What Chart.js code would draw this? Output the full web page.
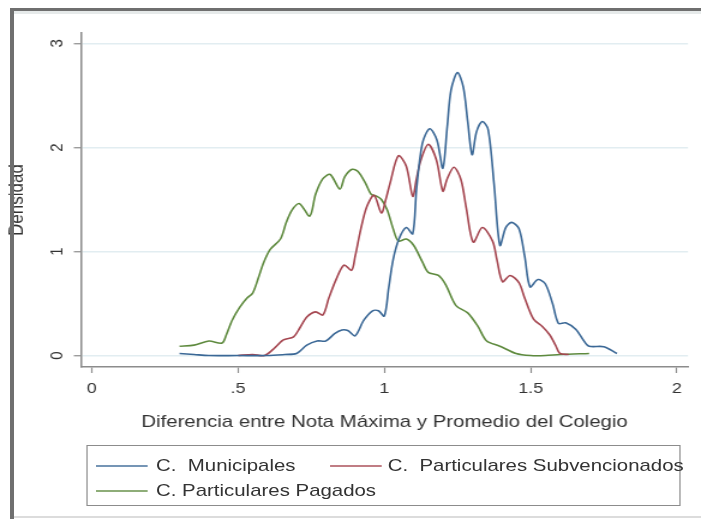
<!DOCTYPE html>
<html>
<head>
<meta charset="utf-8">
<script src="https://cdn.jsdelivr.net/npm/chart.js@4/dist/chart.umd.min.js"></script>
<style>
  html, body { margin: 0; padding: 0; background: #fff; overflow: hidden; }
  #page { position: relative; width: 701px; height: 519px; }
  #wrap { position: absolute; left: 0; top: 0; width: 584px; height: 519px;
          transform: scaleX(1.2003); transform-origin: 0 0; }
  #densidad { position: absolute; left: 0; top: 0; }
  #leyenda { position: absolute; left: 72px; top: 445px; width: 495px; height: 61px;
             border: 1.5px solid #8c8c8c; box-sizing: border-box;
             font-family: "Liberation Sans", Arial, sans-serif; font-size: 17px; color: #333; }
  #leyenda .item { position: absolute; height: 20px; line-height: 20px; white-space: pre; }
  #leyenda .linea { position: absolute; top: 9px; height: 1.6px; opacity: 0.7; }
  #leyenda .texto { position: absolute; top: 0; }
  .marco { position: absolute; z-index: 5; }
</style>
</head>
<body>
<div id="page">
  <div id="wrap">
    <canvas id="densidad" width="584" height="519" style="width:584px;height:519px"></canvas>
    <div id="leyenda"></div>
  </div>
  <div class="marco" style="left:10px;top:8px;width:691px;height:3px;background:#6f6f6f"></div>
  <div class="marco" style="left:14px;top:11px;width:687px;height:3px;background:#e6eaea"></div>
  <div class="marco" style="left:10px;top:8px;width:4px;height:511px;background:#6f6f6f"></div>
  <div class="marco" style="left:14px;top:516px;width:687px;height:1.5px;background:#dcdcdc"></div>
</div>
<script>
// series names
const series = ['C.  Municipales', 'C.  Particulares Subvencionados', 'C. Particulares Pagados'];
const colors = ['#3b6896', '#a54650', '#5e8a3e'];

// C. Municipales
const xMunicipales = [0.30,0.35,0.40,0.50,0.60,0.66,0.70,0.735,0.77,0.80,0.83,0.855,0.875,0.90,0.93,0.96,0.98,1.00,1.015,1.03,1.05,1.075,1.097,1.11,1.13,1.155,1.18,1.20,1.215,1.228,1.25,1.27,1.285,1.30,1.315,1.335,1.355,1.375,1.395,1.415,1.435,1.46,1.48,1.498,1.525,1.55,1.575,1.595,1.62,1.655,1.68,1.70,1.75,1.795];
const yMunicipales = [0.02,0.01,0.00,0.00,0.00,0.01,0.02,0.10,0.14,0.14,0.21,0.245,0.24,0.19,0.34,0.43,0.43,0.38,0.65,0.92,1.12,1.23,1.17,1.60,2.04,2.18,2.07,1.80,2.20,2.55,2.72,2.58,2.25,1.93,2.15,2.25,2.17,1.65,1.06,1.23,1.28,1.22,0.95,0.66,0.73,0.69,0.50,0.31,0.315,0.25,0.15,0.09,0.085,0.02];

// C. Particulares Subvencionados
const xSubvencionados = [0.50,0.55,0.59,0.62,0.655,0.69,0.71,0.735,0.765,0.79,0.81,0.835,0.862,0.888,0.90,0.92,0.94,0.965,0.99,1.005,1.02,1.048,1.075,1.097,1.11,1.125,1.15,1.178,1.20,1.215,1.238,1.262,1.28,1.304,1.335,1.37,1.385,1.404,1.43,1.46,1.48,1.51,1.54,1.565,1.585,1.60,1.63];
const ySubvencionados = [0.00,0.01,0.00,0.06,0.15,0.18,0.26,0.37,0.42,0.39,0.55,0.73,0.87,0.82,0.95,1.22,1.43,1.54,1.37,1.50,1.66,1.92,1.82,1.53,1.70,1.88,2.03,1.88,1.58,1.70,1.81,1.69,1.42,1.09,1.23,1.10,0.92,0.71,0.77,0.70,0.55,0.35,0.28,0.20,0.10,0.02,0.01];

// C. Particulares Pagados
const xPagados = [0.30,0.35,0.40,0.445,0.46,0.48,0.505,0.53,0.55,0.57,0.587,0.61,0.645,0.665,0.685,0.71,0.745,0.765,0.79,0.815,0.848,0.865,0.89,0.91,0.935,0.955,0.975,0.99,1.01,1.03,1.048,1.075,1.10,1.13,1.15,1.185,1.21,1.245,1.285,1.32,1.35,1.395,1.45,1.50,1.55,1.60,1.70];
const yPagados = [0.09,0.10,0.14,0.12,0.20,0.34,0.46,0.55,0.60,0.75,0.89,1.02,1.12,1.28,1.40,1.46,1.34,1.55,1.70,1.74,1.60,1.72,1.79,1.77,1.66,1.55,1.53,1.50,1.40,1.22,1.10,1.12,1.06,0.90,0.80,0.77,0.68,0.48,0.41,0.28,0.14,0.09,0.02,0.00,0.00,0.01,0.02];

// axis ticks
const xTickValues = [0, 0.5, 1, 1.5, 2];
const xTickLabels = ['0', '.5', '1', '1.5', '2'];
const yTickValues = [0, 1, 2, 3];
const yTickLabels = ['0', '1', '2', '3'];

function pts(xs, ys) {
    let out = [];
    for (let i = 0; i < xs.length; i++) out.push({x: xs[i], y: ys[i]});
    return out;
}

const fuente = 'Liberation Sans, Arial, sans-serif';
const gris = '#8c8c8c';

// legend item placement inside the box (left of line, left of text, row)
const legendPos = [
    {line: 7, text: 57, top: 10},
    {line: 202, text: 250, top: 10},
    {line: 7, text: 57, top: 35}
];

const htmlLegend = {
    id: 'htmlLegend',
    afterUpdate(chart) {
        let box = document.getElementById('leyenda');
        box.innerHTML = '';
        chart.data.datasets.forEach(function(ds, i) {
            let p = legendPos[i];
            let item = document.createElement('div');
            item.className = 'item';
            item.style.left = '0px';
            item.style.top = p.top + 'px';
            item.style.width = '100%';
            let ln = document.createElement('span');
            ln.className = 'linea';
            ln.style.left = p.line + 'px';
            ln.style.width = '43px';
            ln.style.background = ds.borderColor;
            let tx = document.createElement('span');
            tx.className = 'texto';
            tx.style.left = p.text + 'px';
            tx.textContent = ds.label;
            item.appendChild(ln);
            item.appendChild(tx);
            box.appendChild(item);
        });
    }
};

let ctx = document.getElementById('densidad').getContext('2d');
window.densidad_chart = new Chart(ctx, {
    type: 'line',
    data: {
        datasets: [
            {label: series[0], data: pts(xMunicipales, yMunicipales), borderColor: colors[0]},
            {label: series[1], data: pts(xSubvencionados, ySubvencionados), borderColor: colors[1]},
            {label: series[2], data: pts(xPagados, yPagados), borderColor: colors[2]}
        ]
    },
    options: {
        responsive: false,
        animation: false,
        parsing: false,
        datasets: {
            line: { borderWidth: 1.6, pointRadius: 0, fill: false, tension: 0.3 }
        },
        layout: { padding: { left: 0, top: 33, right: 10.8, bottom: 79 } },
        plugins: { legend: { display: false }, tooltip: { enabled: false } },
        scales: {
            x: {
                type: 'linear',
                min: -0.0366,
                max: 2.038,
                afterBuildTicks: function(s) { s.ticks = xTickValues.map(v => ({value: v})); },
                afterFit: function(s) { s.height = 73; },
                grid: { drawOnChartArea: false, tickLength: 6, tickColor: gris, tickWidth: 1.2 },
                border: { color: gris, width: 1.5 },
                ticks: {
                    padding: 7,
                    color: '#333',
                    font: { family: fuente, size: 15 },
                    callback: function(v, i) { return xTickLabels[i]; }
                },
                title: {
                    display: true,
                    text: 'Diferencia entre Nota Máxima y Promedio del Colegio',
                    color: '#333',
                    font: { family: fuente, size: 17 },
                    padding: { top: 0, bottom: 7 }
                }
            },
            y: {
                min: -0.11,
                max: 3.10,
                afterBuildTicks: function(s) { s.ticks = yTickValues.map(v => ({value: v})); },
                afterFit: function(s) { s.width = 67.5; },
                grid: { color: '#e2edf1', lineWidth: 1.5, tickLength: 6, tickColor: gris, tickWidth: 1.2 },
                border: { color: gris, width: 1.5 },
                ticks: {
                    minRotation: 90,
                    maxRotation: 90,
                    crossAlign: 'center',
                    padding: 9,
                    color: '#333',
                    font: { family: fuente, size: 15 },
                    callback: function(v, i) { return yTickLabels[i]; }
                },
                title: {
                    display: true,
                    text: 'Densidad',
                    color: '#333',
                    font: { family: fuente, size: 17 },
                    padding: { top: 4, bottom: 0 }
                }
            }
        }
    },
    plugins: [htmlLegend]
});
</script>
</body>
</html>
